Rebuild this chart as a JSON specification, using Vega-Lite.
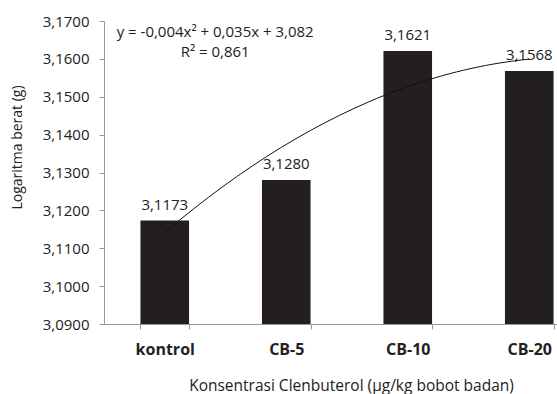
{
  "$schema": "https://vega.github.io/schema/vega-lite/v6.json",
  "width": 453,
  "height": 303,
  "autosize": {"type": "none"},
  "padding": {"left": 104, "top": 21, "right": 0, "bottom": 70},
  "background": "white",
  "config": {
    "locale": {"number": {"decimal": ",", "thousands": ".", "grouping": [3], "currency": ["", ""]}},
    "view": {"stroke": null},
    "font": "Open Sans"
  },
  "data": {"values": [
    {"k": "kontrol", "v": 3.1173},
    {"k": "CB-5", "v": 3.1280},
    {"k": "CB-10", "v": 3.1621},
    {"k": "CB-20", "v": 3.1568}
  ]},
  "layer": [
    {
      "mark": {"type": "bar", "color": "#231f20"},
      "encoding": {
        "x": {"field": "k", "type": "nominal", "sort": null,
          "scale": {"range": [0, 486], "paddingInner": 0.6, "paddingOuter": 0.3},
          "axis": {"tickBand": "extent", "labelAngle": 0, "labelFontWeight": "bold", "labelFontSize": 16, "labelColor": "#222", "labelPadding": 12,
            "domainColor": "#999", "tickColor": "#999", "tickSize": 5,
            "title": "Konsentrasi Clenbuterol (µg/kg bobot badan)", "titleFontWeight": "normal", "titleFontSize": 15.5, "titleColor": "#222",
            "titleX": 247, "titleY": 61, "titleBaseline": "middle", "titleAlign": "center"}},
        "y": {"field": "v", "type": "quantitative",
          "scale": {"domain": [3.09, 3.17], "nice": false, "zero": false},
          "axis": {"values": [3.09, 3.10, 3.11, 3.12, 3.13, 3.14, 3.15, 3.16, 3.17], "format": ".4f", "grid": false, "labelOverlap": false,
            "domainColor": "#999", "tickColor": "#999", "tickSize": 5, "labelFontSize": 15, "labelColor": "#222", "labelPadding": 10,
            "title": "Logaritma berat (g)", "titleFontSize": 14, "titleFontWeight": "normal", "titleColor": "#222", "titleX": -87, "titleY": 126, "titleBaseline": "middle", "titleAlign": "center", "titleAngle": -90}},
        "y2": {"datum": 3.09}
      }
    },
    {
      "mark": {"type": "text", "dy": -16, "fontSize": 15, "color": "#222"},
      "encoding": {
        "x": {"field": "k", "type": "nominal", "sort": null,
          "scale": {"range": [0, 486], "paddingInner": 0.6, "paddingOuter": 0.3}, "axis": null},
        "y": {"field": "v", "type": "quantitative",
          "axis": {"values": [3.09, 3.10, 3.11, 3.12, 3.13, 3.14, 3.15, 3.16, 3.17], "format": ".4f", "grid": false, "labelOverlap": false,
            "domainColor": "#999", "tickColor": "#999", "tickSize": 5, "labelFontSize": 15, "labelColor": "#222", "labelPadding": 10,
            "title": "Logaritma berat (g)", "titleFontSize": 14, "titleFontWeight": "normal", "titleColor": "#222", "titleX": -87, "titleY": 126, "titleBaseline": "middle", "titleAlign": "center", "titleAngle": -90}},
        "text": {"field": "v", "type": "quantitative", "format": ".4f"}
      }
    },
    {
      "transform": [
        {"window": [{"op": "row_number", "as": "idx"}]},
        {"regression": "v", "on": "idx", "method": "poly", "order": 2, "extent": [1, 4]}
      ],
      "mark": {"type": "line", "color": "#111", "strokeWidth": 1},
      "encoding": {
        "x": {"field": "idx", "type": "quantitative",
          "scale": {"domain": [0.5, 4.5], "range": [0, 486], "nice": false, "zero": false}, "axis": null},
        "y": {"field": "v", "type": "quantitative",
          "axis": {"values": [3.09, 3.10, 3.11, 3.12, 3.13, 3.14, 3.15, 3.16, 3.17], "format": ".4f", "grid": false, "labelOverlap": false,
            "domainColor": "#999", "tickColor": "#999", "tickSize": 5, "labelFontSize": 15, "labelColor": "#222", "labelPadding": 10,
            "title": "Logaritma berat (g)", "titleFontSize": 14, "titleFontWeight": "normal", "titleColor": "#222", "titleX": -87, "titleY": 126, "titleBaseline": "middle", "titleAlign": "center", "titleAngle": -90}}
      }
    },
    {
      "data": {"values": [
        {"t": "y = -0,004x² + 0,035x + 3,082", "px": 1.415, "py": 3.1670},
        {"t": "R² = 0,861", "px": 1.415, "py": 3.1617}
      ]},
      "mark": {"type": "text", "fontSize": 15, "color": "#222"},
      "encoding": {
        "x": {"field": "px", "type": "quantitative",
          "scale": {"domain": [0.5, 4.5], "range": [0, 486], "nice": false, "zero": false}, "axis": null},
        "y": {"field": "py", "type": "quantitative",
          "axis": {"values": [3.09, 3.10, 3.11, 3.12, 3.13, 3.14, 3.15, 3.16, 3.17], "format": ".4f", "grid": false, "labelOverlap": false,
            "domainColor": "#999", "tickColor": "#999", "tickSize": 5, "labelFontSize": 15, "labelColor": "#222", "labelPadding": 10,
            "title": "Logaritma berat (g)", "titleFontSize": 14, "titleFontWeight": "normal", "titleColor": "#222", "titleX": -87, "titleY": 126, "titleBaseline": "middle", "titleAlign": "center", "titleAngle": -90}},
        "text": {"field": "t"}
      }
    }
  ],
  "resolve": {"scale": {"x": "independent"}}
}
